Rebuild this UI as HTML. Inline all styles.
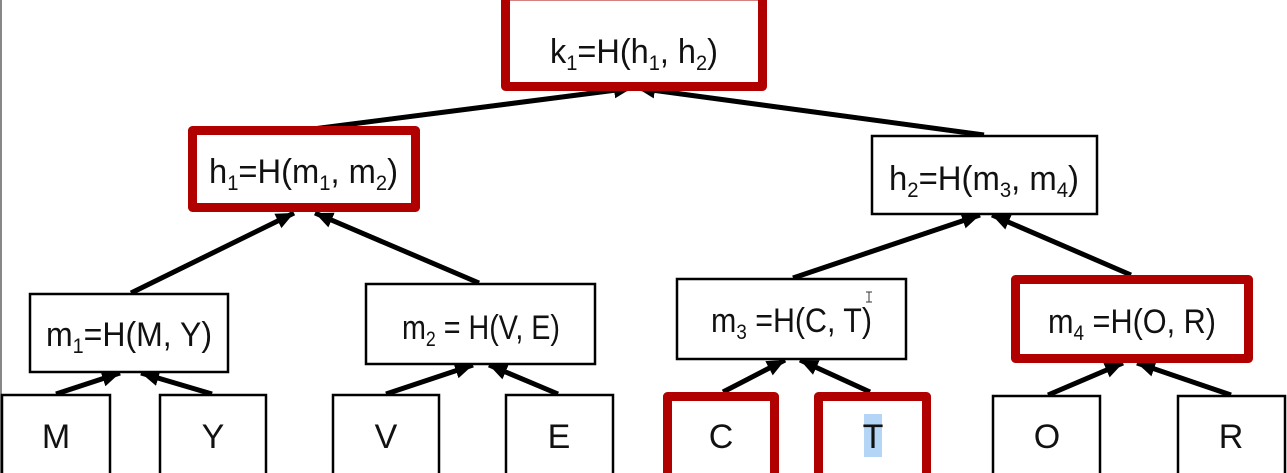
<!DOCTYPE html>
<html><head><meta charset="utf-8"><style>
html,body{margin:0;padding:0;background:#fff;width:1287px;height:473px;overflow:hidden}
svg{display:block}
text{font-family:"Liberation Sans",sans-serif;fill:#111}
</style></head><body>
<svg width="1287" height="473" viewBox="0 0 1287 473" xmlns="http://www.w3.org/2000/svg">
<defs>
<marker id="a" markerUnits="userSpaceOnUse" markerWidth="24" markerHeight="24" refX="18" refY="9" orient="auto">
<path d="M0,1 L18,9 L0,17 Z" fill="#000"/>
</marker>
</defs>
<line x1="1" y1="0" x2="1" y2="473" stroke="#888" stroke-width="2"/>
<g stroke="#000" stroke-width="5" fill="none" marker-end="url(#a)">
<line x1="305" y1="130" x2="632" y2="88"/>
<line x1="984" y1="135" x2="637" y2="88"/>
<line x1="131" y1="293" x2="294" y2="213"/>
<line x1="479" y1="283" x2="315" y2="213"/>
<line x1="793" y1="278" x2="980" y2="215"/>
<line x1="1131" y1="275" x2="992" y2="215"/>
<line x1="56" y1="394" x2="120" y2="373"/>
<line x1="212" y1="394" x2="141" y2="373"/>
<line x1="386" y1="394" x2="473" y2="365"/>
<line x1="558" y1="394" x2="489" y2="365"/>
<line x1="723" y1="392" x2="785" y2="360"/>
<line x1="870" y1="392" x2="800" y2="360"/>
<line x1="1048" y1="395" x2="1123" y2="363"/>
<line x1="1231" y1="395" x2="1137" y2="363"/>
</g>
<g fill="#fff" stroke="#b00000" stroke-width="9" stroke-linejoin="round">
<rect x="505.5" y="-4" width="257" height="90.5"/>
<rect x="192.5" y="130.5" width="223" height="77"/>
<rect x="1015.5" y="279.5" width="233" height="79"/>
<rect x="667.5" y="396.5" width="107" height="90"/>
<rect x="818.5" y="396.5" width="108" height="90"/>
</g>
<g fill="#fff" stroke="#000" stroke-width="2.5">
<rect x="872" y="136" width="225" height="78"/>
<rect x="30" y="294" width="198" height="78"/>
<rect x="366" y="284" width="229" height="80"/>
<rect x="677" y="279" width="229" height="80"/>
<rect x="2" y="395" width="108" height="90"/>
<rect x="160" y="395" width="106" height="90"/>
<rect x="333" y="395" width="106" height="90"/>
<rect x="506" y="395" width="107" height="90"/>
<rect x="993" y="396" width="107" height="90"/>
<rect x="1178" y="396" width="107" height="90"/>
</g>
<rect x="864" y="414" width="18" height="43" fill="#b4d5f5"/>
<g font-size="34">
<text x="550" y="63" textLength="168" lengthAdjust="spacingAndGlyphs">k<tspan font-size="21" dy="7">1</tspan><tspan dy="-7">=H(h</tspan><tspan font-size="21" dy="7">1</tspan><tspan dy="-7">, h</tspan><tspan font-size="21" dy="7">2</tspan><tspan dy="-7">)</tspan></text>
<text x="209" y="183" textLength="189" lengthAdjust="spacingAndGlyphs">h<tspan font-size="21" dy="7">1</tspan><tspan dy="-7">=H(m</tspan><tspan font-size="21" dy="7">1</tspan><tspan dy="-7">, m</tspan><tspan font-size="21" dy="7">2</tspan><tspan dy="-7">)</tspan></text>
<text x="889" y="190" textLength="190" lengthAdjust="spacingAndGlyphs">h<tspan font-size="21" dy="7">2</tspan><tspan dy="-7">=H(m</tspan><tspan font-size="21" dy="7">3</tspan><tspan dy="-7">, m</tspan><tspan font-size="21" dy="7">4</tspan><tspan dy="-7">)</tspan></text>
<text x="46" y="346" textLength="166" lengthAdjust="spacingAndGlyphs">m<tspan font-size="21" dy="7">1</tspan><tspan dy="-7">=H(M, Y)</tspan></text>
<text x="402" y="339" textLength="158" lengthAdjust="spacingAndGlyphs">m<tspan font-size="21" dy="7">2</tspan><tspan dy="-7"> = H(V, E)</tspan></text>
<text x="711" y="332" textLength="161" lengthAdjust="spacingAndGlyphs">m<tspan font-size="21" dy="7">3</tspan><tspan dy="-7"> =H(C, T)</tspan></text>
<text x="1048" y="333" textLength="168" lengthAdjust="spacingAndGlyphs">m<tspan font-size="21" dy="7">4</tspan><tspan dy="-7"> =H(O, R)</tspan></text>
</g>
<g font-size="34" text-anchor="middle">
<text x="56" y="448">M</text>
<text x="213" y="448">Y</text>
<text x="386" y="448">V</text>
<text x="559" y="448">E</text>
<text x="721" y="448">C</text>
<text x="873" y="448">T</text>
<text x="1047" y="448">O</text>
<text x="1231" y="448">R</text>
</g>
<path d="M866,292 h6 M869,292 v10 M866,302 h6" stroke="#333" stroke-width="1" fill="none"/>
</svg>
</body></html>
